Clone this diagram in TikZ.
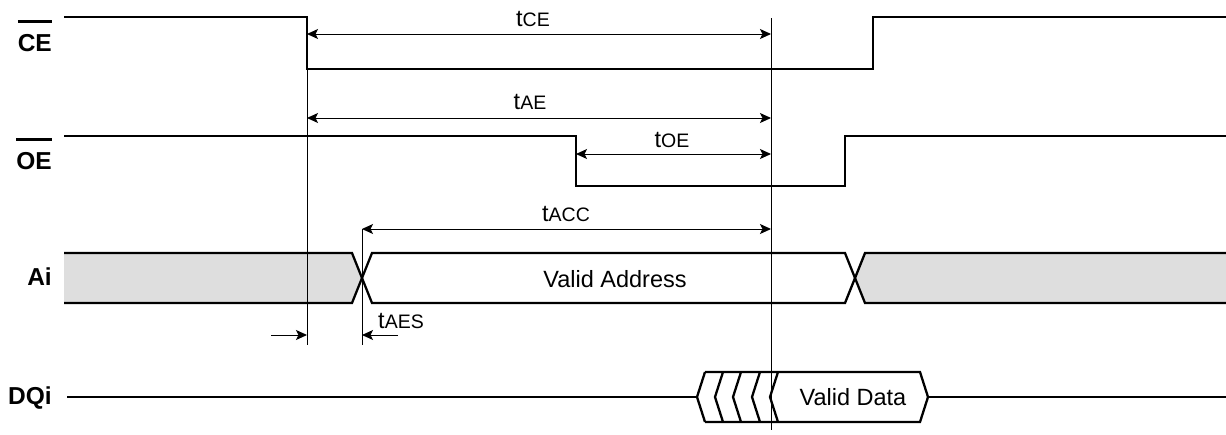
\documentclass[tikz,border=0pt]{standalone}
\usepackage{fontspec}
\setmainfont{Liberation Sans}
\usetikzlibrary{arrows.meta}
\newcommand\barsig[1]{\vbox{\hrule height 2.4pt\kern 11pt\hbox{#1}}}
\newcommand\tname[1]{t{\fontsize{19.5}{22}\selectfont #1}}
\tikzset{
  x=1pt, y=-1pt,
  wave/.style={line width=2.3pt, line join=miter},
  guide/.style={line width=1pt},
  dim/.style={line width=1pt, {Stealth[length=11pt,width=10pt,inset=2.5pt]}-{Stealth[length=11pt,width=10pt,inset=2.5pt]}},
  half/.style={line width=1pt, -{Stealth[length=11pt,width=10pt,inset=2.5pt]}},
  bus/.style={fill=black!13},
  signame/.style={anchor=base east, inner sep=0pt, font=\fontsize{24.5}{28}\selectfont\bfseries},
  txt/.style={anchor=base, inner sep=0pt, font=\fontsize{23.5}{27}\selectfont},
}
\begin{document}
\begin{tikzpicture}
\useasboundingbox (0,0) rectangle (1226,434);

% signal names
\node[signame] (ce) at (52,51) {\barsig{CE}};
\node[signame] (oe) at (52,169) {\barsig{OE}};
\node[signame] (ai) at (52,285) {Ai};
\node[signame] (dq) at (52,404) {DQi};

% control waveforms
\draw[wave] (64,17) -- (307,17) -- (307,69) -- (873,69) -- (873,17) -- (1226,17);
\draw[wave] (64,136) -- (576,136) -- (576,186) -- (845,186) -- (845,136) -- (1226,136);

% address bus
\fill[bus] (64,253) -- (352,253) -- (362,278) -- (352,303) -- (64,303) -- cycle;
\fill[bus] (1226,253) -- (865,253) -- (855,278) -- (865,303) -- (1226,303) -- cycle;
\draw[wave] (64,253) -- (352,253) -- (372,303) -- (845,303) -- (865,253) -- (1226,253);
\draw[wave] (64,303) -- (352,303) -- (372,253) -- (845,253) -- (865,303) -- (1226,303);
\node[txt] (addr) at (615,287) {Valid Address};

% data bus
\draw[wave] (67,397) -- (697,397);
\foreach \x in {697,715,733,752}
  \draw[wave] (\x+8,372) -- (\x,397) -- (\x+8,422);
\draw[wave] (705,372) -- (920,372) -- (928,397) -- (920,422) -- (705,422);
\draw[wave] (778,372) -- (770,397) -- (778,422);
\draw[wave] (928,397) -- (1226,397);
\node[txt] (data) at (853,405) {Valid Data};

% reference lines
\draw[guide] (307,69) -- (307,345);
\draw[guide] (362,229) -- (362,345);
\draw[guide] (771,18) -- (771,430);

% timing
\coordinate (ceA) at (307,34);  \coordinate (ceB) at (771,34);
\coordinate (aeA) at (307,118); \coordinate (aeB) at (771,118);
\coordinate (oeA) at (576,154); \coordinate (oeB) at (771,154);
\coordinate (acA) at (362,229); \coordinate (acB) at (771,229);
\coordinate (asL) at (271,335); \coordinate (asA) at (307,335);
\coordinate (asR) at (398,335); \coordinate (asB) at (362,335);
\draw[dim] (ceA) -- (ceB);
\draw[dim] (aeA) -- (aeB);
\draw[dim] (oeA) -- (oeB);
\draw[dim] (acA) -- (acB);
\draw[half] (asL) -- (asA);
\draw[half] (asR) -- (asB);
\node[txt] (tce) at (533,26) {\tname{CE}};
\node[txt] (tae) at (530,109) {\tname{AE}};
\node[txt] (toe) at (672,147) {\tname{OE}};
\node[txt] (tacc) at (566,221) {\tname{ACC}};
\node[txt] (taes) at (401,328) {\tname{AES}};
\end{tikzpicture}
\end{document}
